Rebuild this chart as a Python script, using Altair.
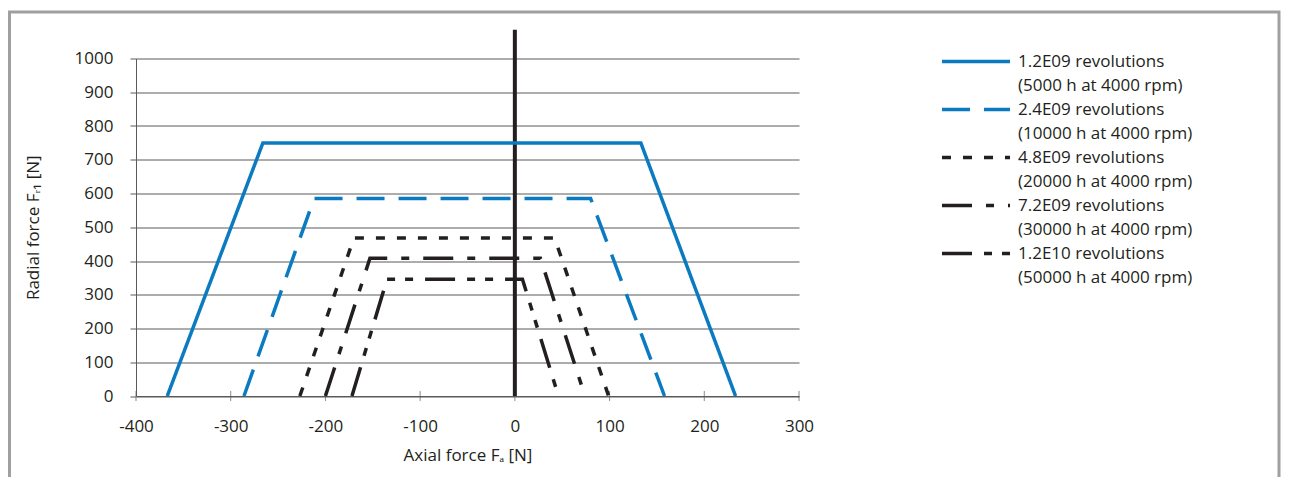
import altair as alt
import pandas as pd

# ---- data ----
series_names = [
    "1.2E09 revolutions|(5000 h at 4000 rpm)",
    "2.4E09 revolutions|(10000 h at 4000 rpm)",
    "4.8E09 revolutions|(20000 h at 4000 rpm)",
    "7.2E09 revolutions|(30000 h at 4000 rpm)",
    "1.2E10 revolutions|(50000 h at 4000 rpm)",
]
s1_x = [-367, -266, 133, 233]
s1_y = [0, 750, 750, 0]
s2_x = [-286, -212, 80, 158]
s2_y = [0, 585, 585, 0]
s3_x = [-227, -170, 42, 99]
s3_y = [0, 468, 468, 0]
s4_x = [-200, -153, 27, 74]
s4_y = [0, 408, 408, 0]
s5_x = [-172, -135, 8, 46]
s5_y = [0, 346, 346, 0]

zero_line_x = [0]
zero_line_y = [0, 1085]

x_ticks = [-400, -300, -200, -100, 0, 100, 200, 300]
y_ticks = [0, 100, 200, 300, 400, 500, 600, 700, 800, 900, 1000]

colors = ["#0b7bc1", "#0b7bc1", "#231f20", "#231f20", "#231f20"]
dashes = [[1, 0], [28, 14], [9, 12], [30, 14, 8, 14], [30, 12, 8, 10, 8, 12]]

rows = []
for name, xs, ys in zip(series_names, [s1_x, s2_x, s3_x, s4_x, s5_x], [s1_y, s2_y, s3_y, s4_y, s5_y]):
    for i, (xv, yv) in enumerate(zip(xs, ys)):
        rows.append({"series": name, "i": i, "x": xv, "y": yv})
df = pd.DataFrame(rows)

zero_df = pd.DataFrame({"x": zero_line_x, "y": [zero_line_y[0]], "y2": [zero_line_y[1]]})
tick_df = pd.DataFrame({"x": x_ticks, "y": [0] * len(x_ticks)})

FONT = "Open Sans"
FS = 17
TXT = "#231f20"
GRID = "#5a5a5a"

xscale = alt.Scale(domain=[-400, 300], nice=False)
yscale = alt.Scale(domain=[0, 1000], nice=False)

x_axis = alt.Axis(values=x_ticks, title="Axial force Fₐ [N]", ticks=False,
                  grid=False, domainColor=GRID, labelPadding=22, labelFlush=False,
                  labelExpr="datum.value + ''", labelOverlap=False, titlePadding=13)
y_axis = alt.Axis(values=y_ticks, title="Radial force Fᵣ₁ [N]", grid=True,
                  gridColor=GRID, domainColor=GRID, tickColor=GRID, tickSize=6,
                  labelExpr="datum.value + ''", labelOverlap=False, labelFlush=False,
                  labelPadding=17, titlePadding=32)


def X():
    return alt.X("x:Q", scale=xscale, axis=x_axis)


def Y():
    return alt.Y("y:Q", scale=yscale, axis=y_axis)


frame = alt.Chart(alt.Data(values=[{}])).mark_rect(
    fill=None, stroke="#a0a0a0", strokeWidth=3
).encode(
    x=alt.value(-126.5), x2=alt.value(1143), y=alt.value(-46.5), y2=alt.value(520)
)

base_axes = alt.Chart(tick_df).mark_tick(
    orient="vertical", size=10, thickness=1, color=GRID
).encode(x=X(), y=Y())

zero = alt.Chart(zero_df).mark_rule(color=TXT, strokeWidth=4).encode(
    x=X(), y=Y(), y2="y2:Q"
)

lines = alt.Chart(df).mark_line(strokeWidth=3.5, clip=False).encode(
    x=X(),
    y=Y(),
    order="i:O",
    color=alt.Color("series:N", sort=series_names,
                    scale=alt.Scale(domain=series_names, range=colors),
                    legend=alt.Legend(
                        orient="none", legendX=828, legendY=-9, title=None,
                        symbolType="M-3.4,0H3.4", symbolSize=400, symbolStrokeWidth=3.5,
                        labelFontSize=FS, labelLimit=400, labelOffset=30,
                        labelColor=TXT, labelFont=FONT,
                        labelExpr="split(datum.label, '|')", rowPadding=4,
                    )),
    strokeDash=alt.StrokeDash("series:N", sort=series_names,
                              scale=alt.Scale(domain=series_names, range=dashes)),
)

chart = alt.layer(frame, base_axes, zero, lines).properties(
    width=663, height=337.5,
    autosize=alt.AutoSizeParams(type="none"),
    padding={"left": 128, "top": 50.5, "right": 482, "bottom": 81},
).configure(font=FONT, style={"guide-label": {"lineHeight": 24}}).configure_view(
    stroke=None
).configure_axis(
    labelFont=FONT, titleFont=FONT, labelFontSize=FS, titleFontSize=FS,
    titleFontWeight="normal", labelColor=TXT, titleColor=TXT, domainWidth=1,
)

chart.save("out.html", embed_options={"renderer": "svg", "actions": False})
